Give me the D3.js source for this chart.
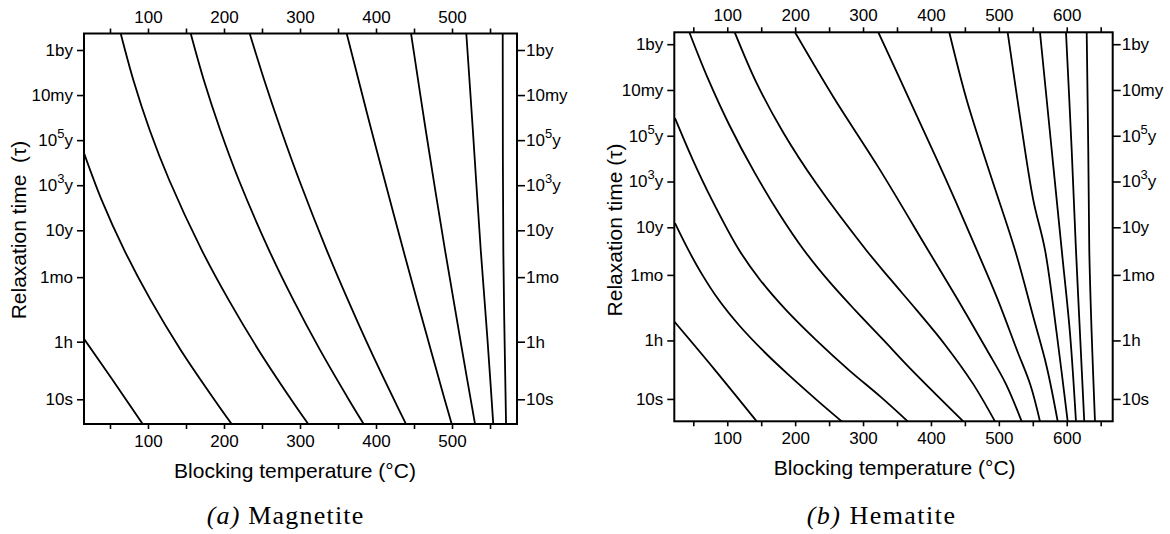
<!DOCTYPE html>
<html>
<head>
<meta charset="utf-8">
<script src="https://cdn.jsdelivr.net/npm/d3@7"></script>
<style>
  html, body { margin: 0; padding: 0; background: #fff; }
  svg { display: block; }
  text { font-family: "Liberation Sans", Arial, sans-serif; fill: #000; }
</style>
</head>
<body>
<svg id="chart" width="1170" height="534"></svg>
<script>
// Relaxation time is stored as log10 of seconds.
const timeTickValues = [16.5, 14.5, 12.5, 10.5, 8.5, 6.42, 3.556, 1];
const timeTickLabels = [["1by"], ["10my"], ["10", "5", "y"], ["10", "3", "y"], ["10y"], ["1mo"], ["1h"], ["10s"]];

const magnetiteTempTicks = [50, 100, 150, 200, 250, 300, 350, 400, 450, 500, 550];
const hematiteTempTicks = [50, 100, 150, 200, 250, 300, 350, 400, 450, 500, 550, 600, 650];
const tempLabelStep = 100;

// Magnetite contours: [temperature °C, log10 τ (s)]
const magnetiteCurves = [
  [[15.8, 3.68], [52.6, 1.90], [93.0, -0.10]],
  [[15.8, 11.93], [39.1, 9.84], [68.8, 7.62], [103.4, 5.41], [143.0, 3.19], [187.6, 0.97], [210.1, -0.10]],
  [[64.1, 17.23], [80.7, 15.17], [102.2, 12.95], [127.9, 10.73], [170.7, 7.62], [206.1, 5.41], [245.4, 3.19], [288.8, 0.97], [310.9, -0.10]],
  [[156.2, 17.23], [173.4, 15.17], [195.0, 12.95], [219.5, 10.73], [259.2, 7.62], [291.2, 5.41], [326.3, 3.19], [364.5, 0.97], [383.8, -0.10]],
  [[233.8, 17.23], [252.9, 15.17], [275.1, 12.95], [298.9, 10.73], [335.1, 7.62], [363.0, 5.41], [392.5, 3.19], [423.9, 0.97], [439.5, -0.10]],
  [[361.4, 17.23], [377.0, 15.17], [393.9, 12.95], [411.3, 10.73], [435.9, 7.62], [453.8, 5.41], [472.1, 3.19], [490.5, 0.97], [499.6, -0.10]],
  [[446.1, 17.23], [465.4, 12.95], [490.8, 7.62], [513.2, 3.19], [530.3, -0.10]],
  [[518.8, 17.23], [527.4, 12.95], [537.8, 7.62], [546.7, 3.63], [554.3, -0.10]],
  [[566.7, 17.23], [567.5, 7.62], [571.1, -0.10]]
];

// Hematite contours: [temperature °C, log10 τ (s)]
const hematiteCurves = [
  [[22.0, 4.38], [82.0, 2.26], [143.4, 0.02]],
  [[23.0, 8.68], [42.7, 7.51], [63.3, 6.42], [87.6, 5.32], [117.1, 4.23], [151.7, 3.14], [190.8, 2.04], [232.0, 0.95], [268.6, 0.02]],
  [[23.0, 13.27], [49.4, 11.44], [77.6, 9.69], [117.4, 7.51], [148.4, 6.20], [186.4, 4.89], [230.6, 3.58], [279.2, 2.26], [325.6, 1.10], [365.8, 0.02]],
  [[44.1, 17.02], [70.5, 15.07], [103.0, 12.97], [139.7, 10.92], [177.7, 9.04], [212.8, 7.51], [248.1, 6.20], [287.9, 4.89], [329.9, 3.58], [371.8, 2.26], [447.6, 0.02]],
  [[111.0, 17.02], [143.3, 14.80], [183.1, 12.61], [230.9, 10.42], [304.5, 7.51], [341.2, 6.20], [378.7, 4.89], [421.0, 3.36], [461.6, 1.68], [494.3, 0.02]],
  [[199.8, 17.02], [257.2, 14.15], [322.0, 11.15], [395.6, 7.51], [439.8, 5.32], [482.5, 3.14], [510.5, 1.65], [533.6, 0.02]],
  [[322.5, 17.02], [372.1, 13.83], [420.7, 10.68], [467.4, 7.51], [498.7, 5.32], [526.6, 3.14], [546.5, 1.61], [560.6, 0.02]],
  [[427.0, 17.02], [452.6, 14.07], [486.9, 10.86], [523.8, 7.51], [550.7, 4.59], [570.5, 2.41], [586.7, 0.02]],
  [[513.0, 17.02], [531.1, 13.34], [550.7, 9.70], [568.0, 7.51], [585.2, 3.87], [601.4, 0.02]],
  [[560.6, 17.02], [575.4, 12.61], [592.6, 7.51], [604.8, 3.87], [613.6, 0.02]],
  [[598.9, 17.02], [607.3, 11.88], [613.6, 7.51], [619.5, 3.87], [625.8, 0.02]],
  [[629.4, 17.02], [631.7, 11.88], [633.2, 7.51], [636.7, 3.87], [641.6, 0.02]]
];

const svg = d3.select("#chart");

const panels = [
  {
    id: "mag", curves: magnetiteCurves, tempTicks: magnetiteTempTicks,
    left: 84, right: 517, top: 33.5, bottom: 424,
    tDomain: [15.8, 585.5], lDomain: [-0.097, 17.232],
    yTitle: "Relaxation time\u00a0\u00a0(\u03c4)", yTitleX: 26, yTitleY: 230,
    xTitleX: 295, caption: ["(a)", " Magnetite"], captionX: 206.7, captionLen: 156.6
  },
  {
    id: "hem", curves: hematiteCurves, tempTicks: hematiteTempTicks,
    left: 674.3, right: 1112.7, top: 32.3, bottom: 421.3,
    tDomain: [22.0, 667.7], lDomain: [0.023, 17.02],
    yTitle: "Relaxation time (\u03c4)", yTitleX: 621.5, yTitleY: 230,
    xTitleX: 894.7, caption: ["(b)", " Hematite"], captionX: 806.7, captionLen: 148.3
  }
];

function styleTimeLabels(sel) {
  sel.selectAll(".tick text").each(function (d, i) {
    const parts = timeTickLabels[i];
    const t = d3.select(this).text(null);
    if (parts.length === 1) {
      t.append("tspan").text(parts[0]);
    } else {
      t.append("tspan").text(parts[0]);
      t.append("tspan").attr("dy", -8).attr("font-size", 13).text(parts[1]);
      t.append("tspan").attr("dy", 8).text(parts[2]);
    }
  });
}

panels.forEach(p => {
  const x = d3.scaleLinear().domain(p.tDomain).range([p.left, p.right]);
  const y = d3.scaleLinear().domain(p.lDomain).range([p.bottom, p.top]);
  const g = svg.append("g");

  g.append("clipPath").attr("id", "clip-" + p.id)
    .append("rect")
    .attr("x", p.left).attr("y", p.top)
    .attr("width", p.right - p.left).attr("height", p.bottom - p.top);

  const line = d3.line()
    .x(d => x(d[0]))
    .y(d => y(d[1]))
    .curve(d3.curveCatmullRom.alpha(0.5));

  g.append("g").attr("clip-path", `url(#clip-${p.id})`)
    .selectAll("path")
    .data(p.curves)
    .join("path")
    .attr("d", line)
    .attr("fill", "none")
    .attr("stroke", "#000")
    .attr("stroke-width", 1.8)
    .attr("stroke-linejoin", "round");

  const tFmt = d => (d % tempLabelStep === 0 ? d : "");

  const axes = [
    { a: d3.axisTop(x), tr: `translate(0,${p.top})` },
    { a: d3.axisBottom(x), tr: `translate(0,${p.bottom})` }
  ];
  axes.forEach(({ a, tr }) => {
    const ax = g.append("g").attr("transform", tr)
      .call(a.tickValues(p.tempTicks).tickFormat(tFmt).tickSize(5).tickPadding(6));
    ax.select(".domain").remove();
    ax.selectAll(".tick line").attr("stroke", "#000").attr("stroke-width", 1.6);
    ax.selectAll(".tick text").attr("font-size", 17).attr("font-family", null).attr("fill", "#000");
  });

  const yl = g.append("g").attr("transform", `translate(${p.left},0)`)
    .call(d3.axisLeft(y).tickValues(timeTickValues).tickSize(7).tickPadding(4));
  const yr = g.append("g").attr("transform", `translate(${p.right},0)`)
    .call(d3.axisRight(y).tickValues(timeTickValues).tickSize(8).tickPadding(1));
  [yl, yr].forEach(ax => {
    ax.select(".domain").remove();
    ax.selectAll(".tick line").attr("stroke", "#000").attr("stroke-width", 1.6);
    ax.selectAll(".tick text").attr("font-size", 17).attr("font-family", null).attr("fill", "#000");
    styleTimeLabels(ax);
  });

  // frame
  g.append("rect")
    .attr("x", p.left).attr("y", p.top)
    .attr("width", p.right - p.left).attr("height", p.bottom - p.top)
    .attr("fill", "none").attr("stroke", "#000").attr("stroke-width", 2);

  g.append("text")
    .attr("x", p.xTitleX).attr("y", p.bottom + 54)
    .attr("text-anchor", "middle").attr("font-size", 21)
    .text("Blocking temperature (\u00b0C)");

  g.append("text")
    .attr("transform", `translate(${p.yTitleX},${p.yTitleY}) rotate(-90)`)
    .attr("text-anchor", "middle").attr("font-size", 21)
    .text(p.yTitle);

  const cap = g.append("text")
    .attr("x", p.captionX).attr("y", 524)
    .attr("textLength", p.captionLen).attr("lengthAdjust", "spacing")
    .style("font-family", "'Liberation Serif', 'Times New Roman', serif")
    .attr("font-size", 26);
  cap.append("tspan").attr("font-style", "italic").text(p.caption[0]);
  cap.append("tspan").text(p.caption[1]);
});
</script>
</body>
</html>
